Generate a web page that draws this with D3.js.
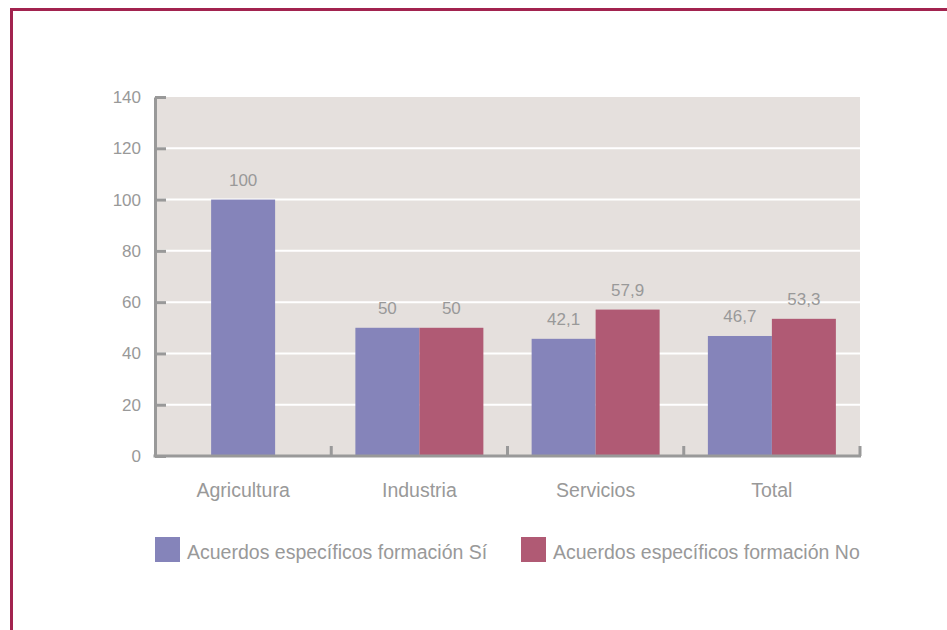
<!DOCTYPE html>
<html>
<head>
<meta charset="utf-8">
<script src="https://cdn.jsdelivr.net/npm/d3@7"></script>
<style>
  body { margin: 0; background: #fff; }
  svg { display: block; font-family: "Liberation Sans", Arial, sans-serif; }
</style>
</head>
<body>
<div id="dataViz"></div>
<script>
/* data */
const categories = ["Agricultura", "Industria", "Servicios", "Total"];
const series = ["Acuerdos específicos formación Sí", "Acuerdos específicos formación No"];
const siValues = [100, 50, 45.7, 46.8];   // bar heights as drawn
const noValues = [null, 50, 57.1, 53.5];
const siLabels = ["100", "50", "42,1", "46,7"];
const noLabels = ["", "50", "57,9", "53,3"];
const yTicks = [0, 20, 40, 60, 80, 100, 120, 140];

const colors = ["#8584ba", "#b05a74"];
const grey = "#999999";

const W = 947, H = 630;
const plot = { left: 155, right: 860, top: 97, bottom: 456 };

const svg = d3.select("#dataViz")
  .append("svg")
  .attr("width", W)
  .attr("height", H);

/* frame */
svg.append("path")
  .attr("d", `M11.5,${H} V9.5 H${W}`)
  .attr("fill", "none")
  .attr("stroke", "#a2234f")
  .attr("stroke-width", 3);

/* scales */
const x0 = d3.scaleBand().domain(categories).range([plot.left, plot.right]).padding(0);
const y = d3.scaleLinear().domain([0, 140]).range([plot.bottom, plot.top]);
const barW = 64;

/* plot background + grid */
svg.append("rect")
  .attr("x", plot.left).attr("y", y(140))
  .attr("width", plot.right - plot.left)
  .attr("height", y(0) - y(140))
  .attr("fill", "#e5e0dd");

svg.append("g")
  .selectAll("line")
  .data(yTicks.filter(d => d > 0 && d < 140))
  .join("line")
  .attr("x1", plot.left).attr("x2", plot.right)
  .attr("y1", d => y(d)).attr("y2", d => y(d))
  .attr("stroke", "#fff")
  .attr("stroke-width", 2);

/* bars */
const rows = categories.map((c, i) => {
  const vals = [siValues[i], noValues[i]];
  const labs = [siLabels[i], noLabels[i]];
  const present = [0, 1].filter(k => vals[k] != null);
  const cx = x0(c) + x0.bandwidth() / 2;
  const start = cx - present.length * barW / 2;
  return present.map((k, j) => ({ cat: c, k: k, v: vals[k], lab: labs[k], x: start + j * barW }));
}).flat();

svg.append("g")
  .selectAll("rect")
  .data(rows)
  .join("rect")
  .attr("x", d => d.x)
  .attr("y", d => y(d.v))
  .attr("width", barW)
  .attr("height", d => y(0) - y(d.v))
  .attr("fill", d => colors[d.k]);

svg.append("g")
  .selectAll("text")
  .data(rows)
  .join("text")
  .attr("x", d => d.x + barW / 2)
  .attr("y", d => y(d.v) - 14)
  .attr("text-anchor", "middle")
  .attr("font-size", 17)
  .attr("fill", grey)
  .text(d => d.lab);

/* y axis */
const yAxis = svg.append("g")
  .attr("transform", `translate(${plot.left},0)`)
  .call(d3.axisLeft(y).tickValues(yTicks).tickSize(0).tickPadding(14));
yAxis.select(".domain").attr("stroke", grey).attr("stroke-width", 3);
yAxis.selectAll("text").attr("font-size", 17).attr("fill", grey).attr("font-family", null);
yAxis.selectAll(".tick").append("line")
  .attr("x1", 0).attr("x2", 11)
  .attr("stroke", grey).attr("stroke-width", 3);

/* x axis */
svg.append("line")
  .attr("x1", plot.left - 1.5).attr("x2", plot.right + 1)
  .attr("y1", plot.bottom).attr("y2", plot.bottom)
  .attr("stroke", grey).attr("stroke-width", 3);

svg.append("g")
  .selectAll("line")
  .data(categories)
  .join("line")
  .attr("x1", d => x0(d) + x0.bandwidth()).attr("x2", d => x0(d) + x0.bandwidth())
  .attr("y1", plot.bottom).attr("y2", plot.bottom - 10)
  .attr("stroke", grey).attr("stroke-width", 3);

svg.append("g")
  .selectAll("text")
  .data(categories)
  .join("text")
  .attr("x", d => x0(d) + x0.bandwidth() / 2)
  .attr("y", 497)
  .attr("text-anchor", "middle")
  .attr("font-size", 19.5)
  .attr("fill", grey)
  .text(d => d);

/* legend */
const legendX = [155, 521];
const legend = svg.append("g")
  .selectAll("g")
  .data(series)
  .join("g")
  .attr("transform", (d, i) => `translate(${legendX[i]},537)`);
legend.append("rect")
  .attr("width", 25).attr("height", 25)
  .attr("fill", (d, i) => colors[i]);
legend.append("text")
  .attr("x", 32).attr("y", 22)
  .attr("font-size", 19.5)
  .attr("fill", grey)
  .text(d => d);
</script>
</body>
</html>
